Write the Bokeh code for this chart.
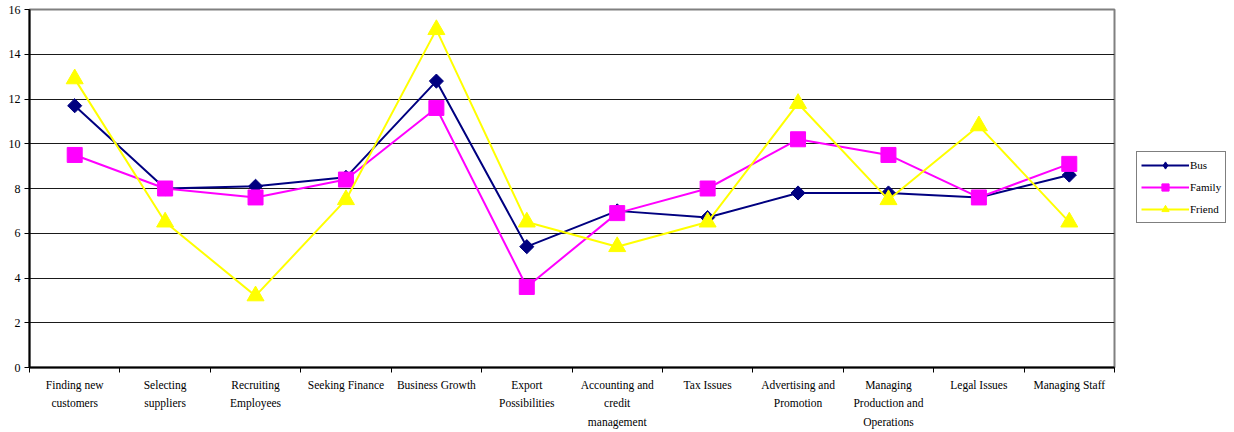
import math
from bokeh.plotting import figure
from bokeh.models import FixedTicker, Legend, LegendItem, Range1d
from bokeh.layouts import row
from bokeh.embed import file_html
from bokeh.resources import INLINE

categories = ["Finding new\ncustomers", "Selecting\nsuppliers", "Recruiting\nEmployees",
              "Seeking Finance", "Business Growth", "Export\nPossibilities",
              "Accounting and\ncredit\nmanagement", "Tax Issues", "Advertising and\nPromotion",
              "Managing\nProduction and\nOperations", "Legal Issues", "Managing Staff"]
bus = [11.7, 8.0, 8.1, 8.5, 12.8, 5.4, 7.0, 6.7, 7.8, 7.8, 7.6, 8.6]
family = [9.5, 8.0, 7.6, 8.4, 11.6, 3.6, 6.9, 8.0, 10.2, 9.5, 7.6, 9.1]
friend = [12.9, 6.5, 3.2, 7.5, 15.1, 6.5, 5.4, 6.5, 11.8, 7.5, 10.8, 6.5]
series_names = ["Bus", "Family", "Friend"]
y_ticks = [0, 2, 4, 6, 8, 10, 12, 14, 16]

FONT = "Liberation Serif"
n = len(categories)
xs = [i + 0.5 for i in range(n)]
# (colour, marker, size, angle, legend marker, legend size)
styles = [("#000080", "square", 10, math.pi / 4, "diamond", 11),
          ("#FF00FF", "square", 15, 0.0, "square", 10),
          ("#FFFF00", "triangle", 17, 0.0, "triangle", 11)]

H = 432
p = figure(width=1116, height=H, output_backend="svg", toolbar_location=None,
           x_range=Range1d(0, n), y_range=Range1d(0, 16),
           min_border_left=29, min_border_right=2, min_border_top=9, min_border_bottom=65)
p.background_fill_color = "white"
p.border_fill_color = "white"
p.outline_line_color = "#808080"
p.outline_line_width = 2

p.xgrid.visible = False
p.ygrid.ticker = FixedTicker(ticks=y_ticks[1:-1])
p.ygrid.grid_line_color = "#1a1a1a"
p.ygrid.grid_line_width = 1

# y axis
p.yaxis.ticker = FixedTicker(ticks=y_ticks)
p.yaxis.axis_line_color = "black"
p.yaxis.axis_line_width = 2
p.yaxis.major_tick_line_color = "black"
p.yaxis.major_tick_out = 5
p.yaxis.major_tick_in = 0
p.yaxis.minor_tick_line_color = None
p.yaxis.major_label_standoff = 4
p.yaxis.major_label_text_font = FONT
p.yaxis.major_label_text_font_size = "12px"
p.yaxis.major_label_text_color = "black"

# x axis
p.xaxis.ticker = FixedTicker(ticks=xs, minor_ticks=list(range(n + 1)))
p.xaxis.major_label_overrides = {x: c for x, c in zip(xs, categories)}
p.xaxis.axis_line_color = "black"
p.xaxis.axis_line_width = 2
p.xaxis.major_tick_line_color = None
p.xaxis.minor_tick_line_color = "black"
p.xaxis.minor_tick_out = 5
p.xaxis.minor_tick_in = 0
p.xaxis.major_label_standoff = 5
p.xaxis.major_label_text_font = FONT
p.xaxis.major_label_text_font_size = "11.5px"
p.xaxis.major_label_text_color = "black"
p.xaxis.major_label_text_line_height = 1.55

for vals, (col, mk, sz, ang, _, _) in zip([bus, family, friend], styles):
    p.line(xs, vals, line_color=col, line_width=2)
    p.scatter(xs, vals, marker=mk, size=sz, angle=ang, fill_color=col, line_color=col)

# legend panel (separate small figure to the right of the plot area)
lg = figure(width=118, height=H, output_backend="svg", toolbar_location=None,
            x_range=Range1d(0, 1), y_range=Range1d(0, 1),
            min_border_left=0, min_border_right=0, min_border_top=0, min_border_bottom=0)
lg.axis.visible = False
lg.grid.visible = False
lg.outline_line_color = None
lg.background_fill_color = "white"
lg.border_fill_color = "white"
items = []
for name, (col, _, _, _, lmk, lsz) in zip(series_names, styles):
    r1 = lg.line([-10, -9], [-10, -9], line_color=col, line_width=2)
    r2 = lg.scatter([-10], [-10], marker=lmk, size=lsz, fill_color=col, line_color=col)
    items.append(LegendItem(label=name, renderers=[r1, r2]))

legend = Legend(items=items, location=(20, 144))
legend.border_line_color = "black"
legend.border_line_width = 1
legend.background_fill_color = "white"
legend.label_text_font = FONT
legend.label_text_font_size = "11px"
legend.label_text_color = "black"
legend.glyph_width = 48
legend.glyph_height = 18
legend.label_height = 18
legend.spacing = 4
legend.padding = 4
legend.margin = 0
legend.label_standoff = 1
lg.add_layout(legend, "center")

layout = row(p, lg)
open("out.html", "w").write(file_html(layout, INLINE))
